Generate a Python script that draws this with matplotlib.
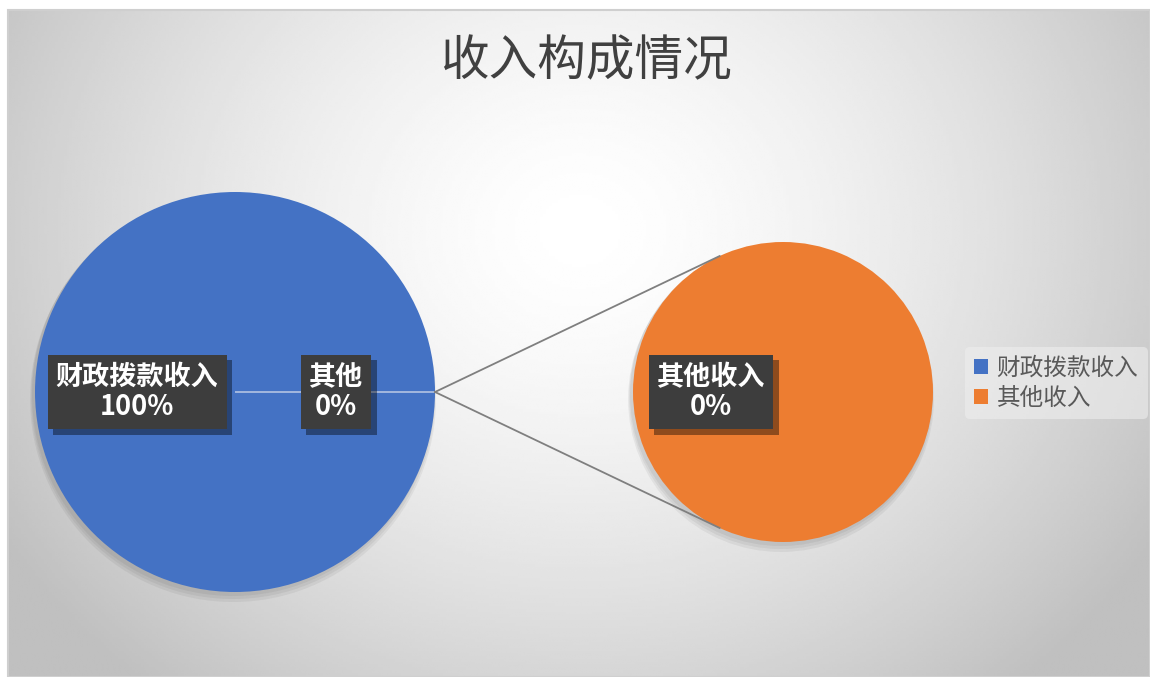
import matplotlib
matplotlib.use("Agg")
import matplotlib.pyplot as plt
import matplotlib.patheffects as pe
from matplotlib.patches import Patch, Circle, Rectangle
import numpy as np

plt.rcParams["font.family"] = ["Noto Sans CJK SC", "DejaVu Sans"]

title = "收入构成情况"
main_labels = ["财政拨款收入", "其他"]
main_values = [100, 0]
sub_labels = ["其他收入"]
sub_values = [0]
legend_labels = ["财政拨款收入", "其他收入"]
colors = ["#4472c4", "#ed7d31"]

W, H = 1150, 677
fig = plt.figure(figsize=(W / 100, H / 100), dpi=100)
ax = fig.add_axes([0, 0, 1, 1])

# radial grey background of the chart area
x0, x1, y0, y1 = 8, W, 10, H
gx, gy = np.meshgrid(np.linspace(x0, x1, 400), np.linspace(y0, y1, 240))
d = np.sqrt(((gx - 580) / 680) ** 2 + ((gy - 230) / 600) ** 2)
shade = 1.0 - 0.25 * np.clip(d, 0, 1) ** 1.5
ax.imshow(shade, cmap="gray", vmin=0, vmax=1, extent=[x0, x1, y1, y0],
          interpolation="bilinear", zorder=0)
ax.add_patch(Rectangle((x0, y0), x1 - x0, y1 - y0, fill=False,
                       edgecolor="#cfcfcf", lw=1.5, zorder=1))

ax.text(586, 62, title, ha="center", va="center", fontsize=35, color="#404040")

c1, r1 = (235, 392), 200
c2, r2 = (783, 392), 150

# soft shadows
for k in range(3):
    for c, r in [(c1, r1), (c2, r2)]:
        ax.add_patch(Circle((c[0] - 2, c[1] + 3 + 2 * k), r + 1 + k,
                            color="black", alpha=0.05, lw=0, zorder=1.5))

total = sum(main_values)
wedges, _ = ax.pie(main_values, colors=colors[:1] * 2, startangle=0,
                   center=c1, radius=r1, counterclock=False,
                   wedgeprops=dict(linewidth=1, edgecolor="none"))
for w in wedges:
    w.set_zorder(2)
wedges[1].set_edgecolor("#c9d3e8")

sub_share = sub_values if sum(sub_values) > 0 else [1] * len(sub_values)
wedges2, _ = ax.pie(sub_share, colors=colors[1:], startangle=0,
                    center=c2, radius=r2,
                    wedgeprops=dict(linewidth=0, edgecolor="none"))
for w in wedges2:
    w.set_zorder(2)
ax.set_xlim(0, W)
ax.set_ylim(H, 0)
ax.set_aspect("equal")
ax.axis("off")

# connector lines
p0 = (c1[0] + r1, c1[1])
for ang in (115, -115):
    t = np.radians(ang)
    p = (c2[0] + r2 * np.cos(t), c2[1] - r2 * np.sin(t))
    ax.plot([p0[0], p[0]], [p0[1], p[1]], color="#7f7f7f", lw=1.3, zorder=3)


def label(x, y, s):
    t = ax.text(x, y, s, color="white", ha="center", va="center",
                fontsize=19.5, fontweight="bold", linespacing=1.1, zorder=4,
                bbox=dict(boxstyle="square,pad=0.3", fc="#3d3d3d", ec="none"))
    t.get_bbox_patch().set_path_effects(
        [pe.SimplePatchShadow(offset=(4, -4), shadow_rgbFace="black", alpha=0.4),
         pe.Normal()])


pct = [round(100 * v / total) for v in main_values]
label(c1[0] - 0.49 * r1, c1[1], f"{main_labels[0]}\n{pct[0]}%")
label(c1[0] + 0.505 * r1, c1[1], f"{main_labels[1]}\n{pct[1]}%")
sub_pct = [round(100 * v / total) for v in sub_values]
label(c2[0] - 0.48 * r2, c2[1], f"{sub_labels[0]}\n{sub_pct[0]}%")

handles = [Patch(facecolor=c, edgecolor="none") for c in colors]
leg = fig.legend(handles, legend_labels, loc="center left",
                 bbox_to_anchor=(953 / W, 1 - 383 / H), fontsize=17,
                 frameon=True, facecolor="#eeeeee", edgecolor="none",
                 framealpha=0.6, handlelength=0.6, handleheight=0.6,
                 handletextpad=0.35, labelspacing=0.3, borderpad=0.4)
for t in leg.get_texts():
    t.set_color("#595959")

fig.savefig("out.png", dpi=100)
